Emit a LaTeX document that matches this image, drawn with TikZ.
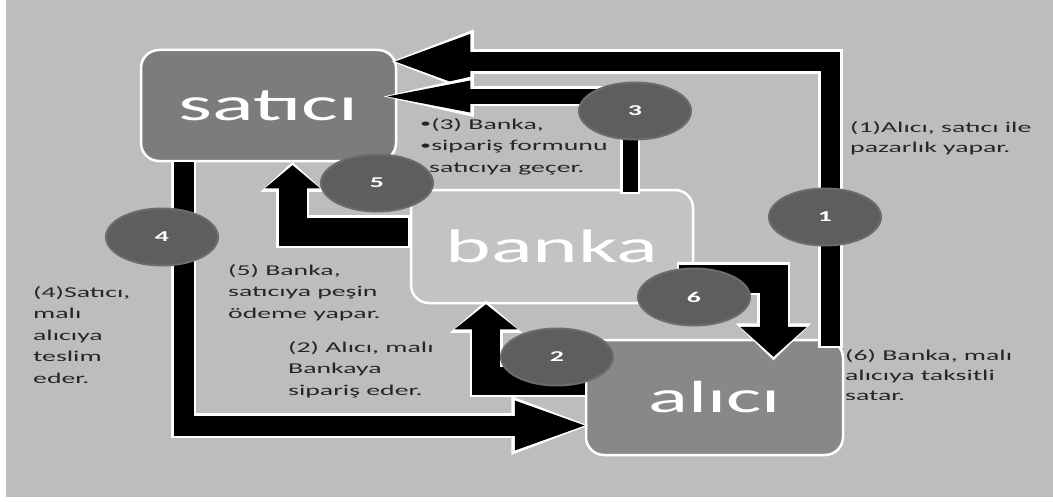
\documentclass[tikz,border=0pt]{standalone}
\usepackage{fontspec}
\setmainfont[FakeStretch=1.85]{Carlito}
\usetikzlibrary{arrows.meta,calc,positioning,shapes.geometric}

\definecolor{fondo}{HTML}{BDBDBD}
\definecolor{koyu}{HTML}{7C7C7C}
\definecolor{acik}{HTML}{888888}
\definecolor{orta}{HTML}{C3C3C3}
\definecolor{daire}{HTML}{5E5E5E}
\definecolor{halka}{HTML}{6C6C6C}
\definecolor{metin}{HTML}{262626}

\newcommand{\madde}{\raisebox{1.2pt}{\fontsize{12}{12}\selectfont•}}

\begin{document}
\begin{tikzpicture}[x=1pt,y=-1pt,
  kutu/.style={draw=white,line width=2.5pt,rounded corners=18pt,text=white,inner sep=0pt},
  numara/.style={ellipse,draw=halka,fill=daire,line width=2pt,minimum width=112pt,
    minimum height=57pt,text=white,font=\bfseries\fontsize{15}{15}\selectfont},
  yazi/.style={anchor=north west,align=left,inner sep=0pt,text=metin,
    font=\fontsize{15}{21.5}\selectfont},
  ok/.style n args={3}{draw=black,line width=#1,
    -{Triangle[length=#2,width=#3,line width=0pt]},
    preaction={draw=white,line width=#1+5pt,
      -{Triangle[length=#2+7pt,width=#3+9pt,line width=0pt]},
      shorten >=-3.5pt,shorten <=-2.5pt}}
  ]

  \useasboundingbox (0,0) rectangle (1053,503);
  \fill[white] (0,0) rectangle (1053,503);
  \fill[fondo] (6,0) rectangle (1053,497);

  % kutular
  \node[kutu,fill=koyu,minimum width=255pt,minimum height=111pt,
    font=\fontsize{47}{47}\selectfont] (sat) at (268.5,105.5) {satıcı};
  \node[kutu,fill=orta,minimum width=282pt,minimum height=113pt,
    font=\fontsize{47}{47}\selectfont] (bnk) at (552,246.5) {banka};
  \node[kutu,fill=acik,minimum width=257pt,minimum height=115pt,
    font=\fontsize{45}{45}\selectfont] (alc) at (714.5,397.5) {alıcı};

  % oklar
  \draw[ok={19.5pt}{75pt}{55pt}] ($(alc.north east)+(-14,7)$) |- ($(sat.east)+(-2,-44)$);
  \draw[ok={15pt}{83pt}{32pt}] ($(bnk.north)+(78,3)$) |- ($(sat.east)+(-10,-9)$);
  \draw[ok={28pt}{23pt}{55pt}] ($(bnk.west)+(-2,-15)$) -| ($(sat.south)+(24,3)$);
  \draw[ok={20pt}{70pt}{50pt}] ($(sat.south west)+(44,0)$) |- ($(alc.west)+(0,28)$);
  \draw[ok={28pt}{25pt}{63pt}] ($(alc.west)+(0,-17)$) -| ($(bnk.south)+(-66,0)$);
  \draw[ok={28pt}{30pt}{67pt}] ($(bnk.east)+(-15,32)$) -| ($(alc.north)+(59,18)$);

  % numaralar
  \node[numara] (n1) at (825,217) {1};
  \node[numara] (n2) at (557,357) {2};
  \node[numara] (n3) at (635,111) {3};
  \node[numara] (n4) at (162,237) {4};
  \node[numara] (n5) at (377,183) {5};
  \node[numara] (n6) at (694,297) {6};

  % aciklamalar
  \node[yazi,font=\fontsize{15}{20}\selectfont] (t1) at (850,121)
    {(1)Alıcı, satıcı ile\\pazarlık yapar.};
  \node[yazi] (t3) at (420,118)
    {\madde(3) Banka,\\\madde sipariş formunu\\\hspace*{9pt}satıcıya geçer.};
  \node[yazi] (t4) at (33,286) {(4)Satıcı,\\malı\\alıcıya\\teslim\\eder.};
  \node[yazi] (t5) at (228,264) {(5) Banka,\\satıcıya peşin\\ödeme yapar.};
  \node[yazi] (t2) at (288,341) {(2) Alıcı, malı\\Bankaya\\sipariş eder.};
  \node[yazi,font=\fontsize{15}{20}\selectfont] (t6) at (845,349)
    {(6) Banka, malı\\alıcıya taksitli\\satar.};

\end{tikzpicture}
\end{document}
